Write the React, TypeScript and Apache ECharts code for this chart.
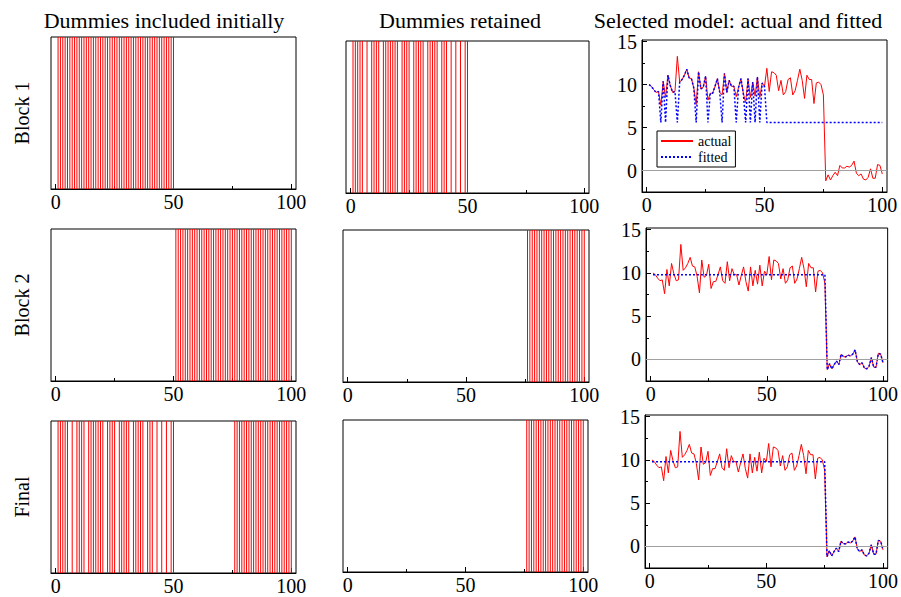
import React, { useEffect, useRef } from "react";
import * as echarts from "echarts";

// ---------- data ----------
const actual = [
  10.0, 9.8, 9.4, 9.1, 9.2, 7.6, 10.4, 8.5, 11.1, 9.9,
  9.1, 9.2, 13.3, 10.3, 10.6, 11.1, 11.8, 10.8, 10.7, 9.6,
  7.7, 11.5, 9.5, 9.7, 11.0, 8.2, 9.0, 9.0, 9.8, 10.7,
  9.1, 8.8, 11.3, 9.1, 10.5, 9.8, 9.8, 8.6, 9.7, 10.7,
  9.0, 7.9, 10.7, 8.5, 10.3, 8.7, 10.9, 8.5, 10.2, 9.8,
  11.9, 9.2, 11.5, 11.4, 11.1, 9.3, 10.5, 8.8, 9.2, 10.6,
  10.8, 8.8, 9.3, 10.5, 11.8, 10.5, 8.4, 11.1, 10.6, 10.6,
  7.8, 10.2, 10.3, 10.0, 8.8, -1.2, -0.5, -1.1, -0.6, -0.2,
  -0.6, 0.6, 0.3, 0.3, 0.5, 0.4, 0.6, 1.1, -0.3, -0.6,
  -0.4, -1.0, -1.1, -0.8, 0.2, -0.9, -0.9, 0.7, 0.6, -0.4,
];

const includedBlock1 = [
  1, 2, 3, 4, 5, 6, 7, 8, 9, 10, 11, 12, 13, 14, 15, 16, 17, 18, 19, 20, 21, 22, 23, 24, 25,
  26, 27, 28, 29, 30, 31, 32, 33, 34, 35, 36, 37, 38, 39, 40, 41, 42, 43, 44, 45, 46, 47, 48, 49, 50,
];
const includedBlock2 = [
  51, 52, 53, 54, 55, 56, 57, 58, 59, 60, 61, 62, 63, 64, 65, 66, 67, 68, 69, 70, 71, 72, 73, 74, 75,
  76, 77, 78, 79, 80, 81, 82, 83, 84, 85, 86, 87, 88, 89, 90, 91, 92, 93, 94, 95, 96, 97, 98, 99, 100,
];
const retainedBlock1 = [
  1, 2, 3, 4, 5, 7, 9, 10, 11, 12, 14, 15, 16, 17, 18, 19, 20, 22, 23, 24, 25,
  27, 28, 29, 30, 31, 33, 34, 35, 36, 37, 39, 40, 41, 43, 45, 47, 49, 50,
];
const retainedBlock2 = [
  76, 77, 78, 79, 80, 81, 82, 83, 84, 85, 86, 87, 88, 89, 90, 91, 92, 93, 94, 95, 96, 97, 98, 99, 100,
];
const includedFinal = retainedBlock1.concat(retainedBlock2);
const retainedFinal = retainedBlock2;

const constantBlock1 = 5.6;
const constantBlock2 = 9.8;
const constantFinal = 9.8;

const xTickValues = [0, 50, 100];
const xMinorTickValues = [25, 75];
const yTickValues = [0, 5, 10, 15];
const yMinorTickValues = [2.5, 7.5, 12.5];

const columnTitles = ["Dummies included initially", "Dummies retained", "Selected model: actual and fitted"];
const rowLabels = ["Block 1", "Block 2", "Final"];
const legendNames = ["actual", "fitted"];

// ---------- layout ----------
const FONT = "Liberation Serif";
const panelPos = [
  [{ l: 51, t: 37, w: 245, h: 152 }, { l: 346, t: 41, w: 243, h: 152 }, { l: 642, t: 40, w: 245, h: 152 }],
  [{ l: 51, t: 229, w: 245, h: 152 }, { l: 343, t: 230, w: 246, h: 152 }, { l: 646, t: 228, w: 245, h: 153 }],
  [{ l: 51, t: 421, w: 245, h: 152 }, { l: 343, t: 420, w: 245, h: 152 }, { l: 645, t: 415, w: 245, h: 153 }],
];
const titleX = [164, 460, 738];
const rowLabelY = [113, 305, 497];

function fittedFrom(retained: number[], c: number) {
  return actual.map((v, i) => (retained.indexOf(i + 1) >= 0 ? v : c));
}

const rows = [
  { included: includedBlock1, retained: retainedBlock1, fitted: fittedFrom(retainedBlock1, constantBlock1), legend: true },
  { included: includedBlock2, retained: retainedBlock2, fitted: fittedFrom(retainedBlock2, constantBlock2), legend: false },
  { included: includedFinal, retained: retainedFinal, fitted: fittedFrom(retainedFinal, constantFinal), legend: false },
];

function buildOption() {
  const grids: any[] = [];
  const xAxes: any[] = [];
  const yAxes: any[] = [];
  const series: any[] = [];
  let legend: any = undefined;

  rows.forEach((row, r) => {
    for (let c = 0; c < 3; c++) {
      const p = panelPos[r][c];
      const g = grids.length;
      grids.push({
        left: p.l, top: p.t, width: p.w, height: p.h,
        show: true, borderColor: "#000", borderWidth: 1, backgroundColor: "transparent",
      });
      const xi = xAxes.length;
      xAxes.push({
        gridIndex: g, type: "value", position: "bottom", min: -2, max: 102,
        axisLine: { show: true, onZero: false, lineStyle: { color: "#000", width: 1 } },
        axisTick: { show: true, inside: true, length: 5, customValues: xTickValues, lineStyle: { color: "#000" } },
        axisLabel: { show: true, customValues: xTickValues, fontSize: 20, fontFamily: FONT, color: "#000", margin: 3 },
        splitLine: { show: false },
      });
      xAxes.push({
        gridIndex: g, type: "value", position: "bottom", min: -2, max: 102,
        axisLine: { show: false, onZero: false },
        axisTick: { show: true, inside: true, length: 3, customValues: xMinorTickValues, lineStyle: { color: "#000" } },
        axisLabel: { show: false },
        splitLine: { show: false },
      });
      const yi = yAxes.length;
      if (c < 2) {
        yAxes.push({
          gridIndex: g, type: "value", min: 0, max: 1,
          axisLine: { show: false, onZero: false }, axisTick: { show: false }, axisLabel: { show: false }, splitLine: { show: false },
        });
        const list = c === 0 ? row.included : row.retained;
        series.push({
          type: "bar", xAxisIndex: xi, yAxisIndex: yi, barWidth: 1, silent: true,
          itemStyle: { color: "#ff0000" },
          data: list.map((i) => [i, 1]),
        });
      } else {
        yAxes.push({
          gridIndex: g, type: "value", position: "left", min: -2.5, max: 15.2,
          axisLine: { show: true, onZero: false, lineStyle: { color: "#000" } },
          axisTick: { show: true, inside: true, length: 5, customValues: yTickValues, lineStyle: { color: "#000" } },
          axisLabel: { show: true, customValues: yTickValues, fontSize: 20, fontFamily: FONT, color: "#000", margin: 5 },
          splitLine: { show: false },
        });
        yAxes.push({
          gridIndex: g, type: "value", position: "left", min: -2.5, max: 15.2,
          axisLine: { show: false, onZero: false },
          axisTick: { show: true, inside: true, length: 3, customValues: yMinorTickValues, lineStyle: { color: "#000" } },
          axisLabel: { show: false },
          splitLine: { show: false },
        });
        series.push({
          name: legendNames[0], type: "line", xAxisIndex: xi, yAxisIndex: yi, symbol: "none", silent: true,
          lineStyle: { color: "#ff0000", width: 1 }, itemStyle: { color: "#ff0000" },
          data: actual.map((v, i) => [i + 1, v]),
          markLine: {
            silent: true, symbol: ["none", "none"], label: { show: false },
            lineStyle: { color: "#a0a0a0", width: 1, type: "solid" },
            data: [{ yAxis: 0 }],
          },
        });
        series.push({
          name: legendNames[1], type: "line", xAxisIndex: xi, yAxisIndex: yi, symbol: "none", silent: true,
          lineStyle: { color: "#0000ff", width: 1.5, type: [2, 2] }, itemStyle: { color: "#0000ff" },
          data: row.fitted.map((v, i) => [i + 1, v]),
        });
        if (row.legend) {
          legend = {
            data: legendNames, orient: "vertical", left: p.l + 15, top: p.t + 91,
            itemWidth: 32, itemHeight: 12, itemGap: 2, padding: [3, 4, 3, 3],
            borderColor: "#000", borderWidth: 1, backgroundColor: "#fff",
            selectedMode: false,
            itemStyle: { opacity: 0, borderWidth: 0 },
            textStyle: { fontSize: 14, fontFamily: FONT, color: "#000" },
          };
        }
      }
    }
  });

  const graphic: any[] = [];
  columnTitles.forEach((t, i) => {
    graphic.push({
      type: "text", x: titleX[i], y: 20, silent: true,
      style: {
        text: t, fill: "#000", fontSize: 22, fontFamily: FONT,
        textAlign: "center", align: "center", textVerticalAlign: "middle", verticalAlign: "middle",
      },
    });
  });
  rowLabels.forEach((t, i) => {
    graphic.push({
      type: "text", x: 22, y: rowLabelY[i], rotation: Math.PI / 2, silent: true,
      style: {
        text: t, fill: "#000", fontSize: 20, fontFamily: FONT,
        textAlign: "center", align: "center", textVerticalAlign: "middle", verticalAlign: "middle",
      },
    });
  });

  return {
    animation: false,
    backgroundColor: "#fff",
    textStyle: { fontFamily: FONT },
    grid: grids,
    xAxis: xAxes,
    yAxis: yAxes,
    series,
    legend,
    graphic,
  };
}

export default function App() {
  const ref = useRef<HTMLDivElement>(null);
  useEffect(() => {
    if (!ref.current) return;
    const chart = echarts.init(ref.current, undefined, { renderer: "svg" });
    chart.setOption(buildOption() as any);
    return () => chart.dispose();
  }, []);
  return (
    <div
      ref={ref}
      style={{ position: "absolute", left: 0, top: 0, width: 901, height: 597, background: "#fff" }}
    />
  );
}
